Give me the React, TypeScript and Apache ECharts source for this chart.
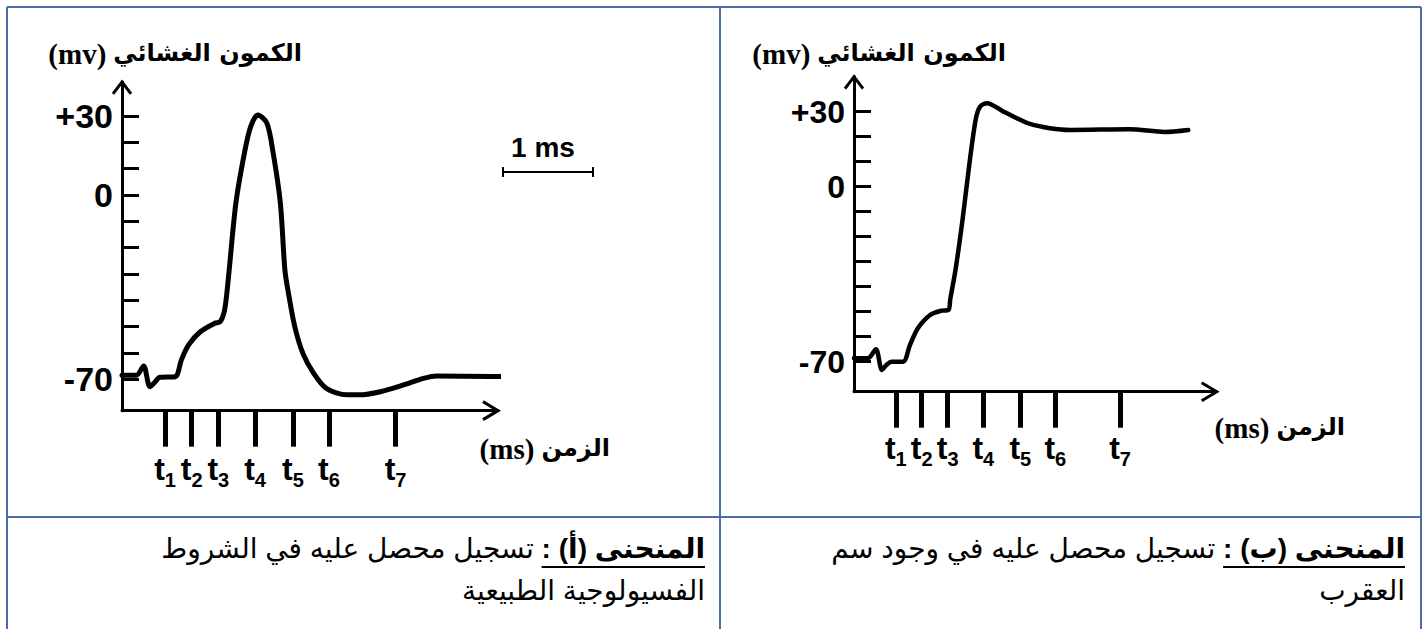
import React, { useEffect, useRef } from 'react';
import * as echarts from 'echarts';

// ---- data ----
const tickTimes = [0.478, 0.774, 1.07, 1.478, 1.9, 2.3, 3.04]; // t1..t7 (ms)
const tickNames = ['1', '2', '3', '4', '5', '6', '7'];
const yTickValues = [-70, -60, -50, -40, -30, -20, -10, 0, 10, 20, 30];
const yLabelValues = [-70, 0, 30];

const timeA = [0, 0.16, 0.24, 0.31, 0.37, 0.42, 0.59, 0.66, 0.74, 0.87, 1.03, 1.09, 1.14, 1.18, 1.265, 1.36, 1.43, 1.51, 1.61, 1.68, 1.76, 1.81, 1.85, 1.92, 2.01, 2.13, 2.27, 2.5, 2.64, 2.87, 3.13, 3.35, 3.5, 4.3];
const mvA = [-68.5, -68.5, -65, -72.9, -71, -69.3, -69.1, -62.7, -57, -52, -48.8, -48.2, -43.7, -32.3, -3.2, 15.9, 26, 30.4, 27.3, 15.9, -3.2, -28.5, -37.4, -50.1, -60.2, -67.8, -73.5, -76, -76, -74.8, -72.2, -69.7, -68.8, -69.1];

const timeB = [0, 0.16, 0.25, 0.32, 0.37, 0.43, 0.56, 0.64, 0.73, 0.87, 1.0, 1.08, 1.1, 1.16, 1.24, 1.31, 1.39, 1.44, 1.52, 1.71, 1.86, 2.01, 2.24, 2.47, 3.15, 3.55, 3.82];
const mvB = [-68.6, -68.6, -65, -73.3, -71.3, -70, -70, -63.3, -56.6, -51.3, -49.6, -49.3, -45, -33.3, -13.3, 6.7, 26.7, 32, 33.4, 30, 27.4, 25.1, 23.4, 22.7, 23, 21.9, 22.7];

const yTitleWord = 'الكمون الغشائي';
const yTitleUnit = '(mv)';
const xTitleWord = 'الزمن';
const xTitleUnit = '(ms)';
const scaleLabel = '1 ms';
const captionHeads = ['المنحنى (أ) :', 'المنحنى (ب) :'];
const captionLine1 = ['تسجيل محصل عليه في الشروط', 'تسجيل محصل عليه في وجود سم'];
const captionLine2 = ['الفسيولوجية الطبيعية', 'العقرب'];

// ---- layout ----
const W = 1426;
const H = 629;
const panels = [
  { left: 122, top: 81.9, width: 376, height: 328.75, xMax: 4.178, yMin: -82, yMax: 43, lw: 5, labelMargin: 42, tR: 302, tY: 54, xtR: 610, xtY: 449, capRight: 705 },
  { left: 854, top: 76.7, width: 362.7, height: 315, xMax: 4.145, yMin: -82, yMax: 44, lw: 4.5, labelMargin: 40, tR: 1006, tY: 54, xtR: 1345, xtY: 428, capRight: 1405 },
];
const NUM_FONT = '"Liberation Sans", Arial, sans-serif';
const SERIF = '"Liberation Serif", "Times New Roman", serif';
const AR_FONT = '"DejaVu Sans", sans-serif';
const CAP_FONT = '"Liberation Sans", "DejaVu Sans", sans-serif';
const BORDER = '#4a6ba8';

const rtl = (s: string) => '\u202B' + s + '\u202C';

function measure(text: string, font: string) {
  const c = document.createElement('canvas').getContext('2d') as CanvasRenderingContext2D;
  c.font = font;
  return c.measureText(text).width;
}

export default function App() {
  const ref = useRef<HTMLDivElement>(null);
  useEffect(() => {
    if (!ref.current) return;
    const chart = echarts.init(ref.current, undefined, { renderer: 'svg' });
    const series = [timeA.map((t, k) => [t, mvA[k]]), timeB.map((t, k) => [t, mvB[k]])];
    const option: any = {
      animation: false,
      backgroundColor: '#fff',
      grid: panels.map((p) => ({ left: p.left, top: p.top, width: p.width, height: p.height, containLabel: false })),
      xAxis: panels.map((p, i) => ({
        type: 'value', gridIndex: i, min: 0, max: p.xMax,
        axisLine: { show: true, onZero: false, lineStyle: { color: '#000', width: 3 } },
        axisTick: { show: true, customValues: tickTimes, length: 36, lineStyle: { color: '#000', width: 5 } },
        axisLabel: {
          show: true, customValues: tickTimes, margin: p.labelMargin,
          formatter: (v: number) => {
            const idx = tickTimes.findIndex((t) => Math.abs(t - v) < 1e-6);
            return '{t|t}{s|' + (idx >= 0 ? tickNames[idx] : '') + '}';
          },
          rich: {
            t: { fontSize: 32, fontWeight: 'bold', fontFamily: NUM_FONT, color: '#000', verticalAlign: 'bottom', lineHeight: 32 },
            s: { fontSize: 20, fontWeight: 'bold', fontFamily: NUM_FONT, color: '#000', verticalAlign: 'bottom', lineHeight: 20, padding: [0, 0, -5, 0] },
          },
        },
        splitLine: { show: false },
      })),
      yAxis: panels.map((p, i) => ({
        type: 'value', gridIndex: i, min: p.yMin, max: p.yMax,
        axisLine: { show: true, onZero: false, lineStyle: { color: '#000', width: 3 } },
        axisTick: { show: true, inside: true, customValues: yTickValues, length: 17, lineStyle: { color: '#000', width: 3 } },
        axisLabel: {
          show: true, customValues: yLabelValues, margin: 9,
          formatter: (v: number) => (v > 0 ? '+' + v : String(v)),
          fontSize: i === 0 ? 34 : 32, fontWeight: 'bold', fontFamily: NUM_FONT, color: '#000',
        },
        splitLine: { show: false },
      })),
      series: series.map((d, i) => ({
        type: 'line', xAxisIndex: i, yAxisIndex: i, data: d,
        symbol: 'none', showSymbol: false, smooth: 0.3, clip: false,
        lineStyle: { color: '#000', width: panels[i].lw, cap: 'round', join: 'round' },
      })),
    };
    chart.setOption(option);

    const g: any[] = [];
    // table borders
    const bl = (x1: number, y1: number, x2: number, y2: number) =>
      g.push({ type: 'line', shape: { x1, y1, x2, y2 }, style: { stroke: BORDER, lineWidth: 2 }, z: 100 });
    bl(7, 7, 1421, 7);
    bl(7, 7, 7, H);
    bl(720, 7, 720, H);
    bl(1421, 7, 1421, H);
    bl(7, 517, 1421, 517);

    const capSize = 28;
    const boldFont = `bold ${capSize}px ${CAP_FONT}`;
    const regFont = `${capSize}px ${CAP_FONT}`;
    const spaceW = measure(' ', regFont);
    const arTitleFont = `bold 24px ${AR_FONT}`;
    const unitFont = `bold 29px ${SERIF}`;

    const txt = (x: number, y: number, text: string, font: string, align: string) =>
      g.push({ type: 'text', x, y, style: { text, font, fill: '#000', textAlign: align, textVerticalAlign: 'middle' } });

    panels.forEach((p, i) => {
      const right = p.left + p.width;
      const bottom = p.top + p.height;
      // arrows
      g.push({ type: 'polyline', shape: { points: [[p.left - 9, p.top + 12], [p.left, p.top], [p.left + 9, p.top + 12]] }, style: { stroke: '#000', lineWidth: 3, fill: null } });
      g.push({ type: 'polyline', shape: { points: [[right - 15, bottom - 9], [right, bottom], [right - 15, bottom + 9]] }, style: { stroke: '#000', lineWidth: 3, fill: null } });
      // axis titles: Arabic word on the right, unit to its left (RTL order)
      const wy = measure(rtl(yTitleWord), arTitleFont);
      txt(p.tR, p.tY - 1, rtl(yTitleWord), arTitleFont, 'right');
      txt(p.tR - wy - 7, p.tY, yTitleUnit, unitFont, 'right');
      const wx = measure(rtl(xTitleWord), arTitleFont);
      txt(p.xtR, p.xtY - 1, rtl(xTitleWord), arTitleFont, 'right');
      txt(p.xtR - wx - 7, p.xtY, xTitleUnit, unitFont, 'right');
      // caption
      const head = rtl(captionHeads[i]);
      const hw = measure(head, boldFont);
      txt(p.capRight, 548, head, boldFont, 'right');
      g.push({ type: 'line', shape: { x1: p.capRight - hw, y1: 567, x2: p.capRight, y2: 567 }, style: { stroke: '#000', lineWidth: 2 } });
      txt(p.capRight - hw - spaceW, 548, rtl(captionLine1[i]), regFont, 'right');
      txt(p.capRight, 590, rtl(captionLine2[i]), regFont, 'right');
    });

    // 1 ms scale bar (length from axis A scale)
    const p0 = chart.convertToPixel({ xAxisIndex: 0 }, 0) as number;
    const p1 = chart.convertToPixel({ xAxisIndex: 0 }, 1) as number;
    const len = p1 - p0;
    const bx = 503;
    const by = 172;
    g.push({ type: 'line', shape: { x1: bx, y1: by, x2: bx + len, y2: by }, style: { stroke: '#000', lineWidth: 2 } });
    g.push({ type: 'line', shape: { x1: bx, y1: by - 5, x2: bx, y2: by + 5 }, style: { stroke: '#000', lineWidth: 2 } });
    g.push({ type: 'line', shape: { x1: bx + len, y1: by - 5, x2: bx + len, y2: by + 5 }, style: { stroke: '#000', lineWidth: 2 } });
    txt(bx + len / 2 - 5, 147, scaleLabel, `bold 28px ${NUM_FONT}`, 'center');

    chart.setOption({ graphic: { elements: g } });
    return () => chart.dispose();
  }, []);
  return <div ref={ref} style={{ position: 'fixed', left: 0, top: 0, width: W, height: H, background: '#fff' }} />;
}
